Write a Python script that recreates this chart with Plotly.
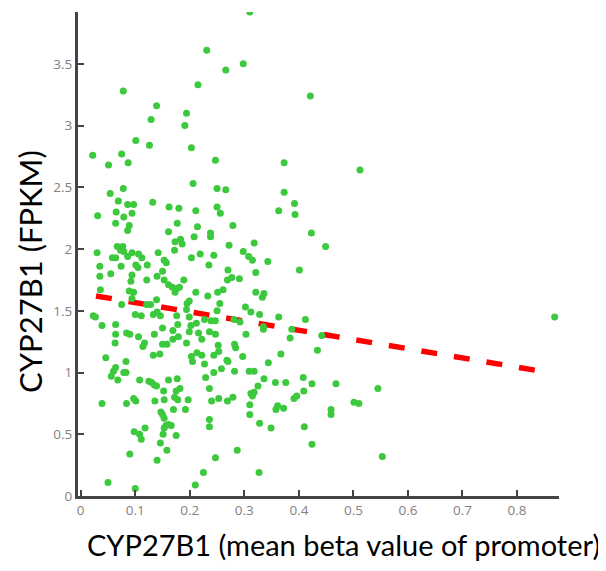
import plotly.graph_objects as go

# Scatter data: mean beta value of promoter (x) vs FPKM (y)
x_vals = [
    0.231, 0.266, 0.215, 0.078, 0.139, 0.129, 0.194, 0.191, 0.101, 0.126, 0.203, 0.022, 0.075, 0.051, 0.087, 0.247,
    0.31, 0.298, 0.421, 0.373, 0.512, 0.869,
    0.078, 0.206, 0.250, 0.266, 0.054, 0.069, 0.086, 0.097, 0.132, 0.162, 0.180, 0.031, 0.065, 0.094, 0.079, 0.211,
    0.250, 0.256, 0.064, 0.089, 0.177, 0.279, 0.086, 0.161, 0.214, 0.238, 0.208, 0.238, 0.173, 0.183, 0.186,
    0.030, 0.067, 0.077, 0.073, 0.079, 0.094, 0.106, 0.142, 0.172, 0.058, 0.064, 0.086, 0.112, 0.203, 0.219, 0.244,
    0.272, 0.035, 0.074, 0.101, 0.105, 0.122, 0.153, 0.157, 0.235, 0.035, 0.055, 0.094, 0.150, 0.140, 0.189, 0.270,
    0.092, 0.121, 0.153, 0.161, 0.168, 0.176, 0.181, 0.173, 0.269, 0.277, 0.291, 0.261, 0.251, 0.036, 0.089, 0.097,
    0.211, 0.233, 0.139, 0.094, 0.075, 0.121, 0.128, 0.195, 0.199, 0.255, 0.194, 0.250, 0.023, 0.027, 0.100, 0.111,
    0.133, 0.140, 0.146, 0.176, 0.199, 0.227, 0.239, 0.247, 0.039, 0.064, 0.178, 0.202, 0.212, 0.281, 0.292,
    0.373, 0.392, 0.363, 0.393, 0.423, 0.318, 0.449, 0.298, 0.308, 0.315, 0.343, 0.401, 0.321, 0.321, 0.336, 0.333,
    0.302, 0.312, 0.328, 0.363, 0.412, 0.335, 0.387,
    0.064, 0.084, 0.090, 0.106, 0.135, 0.150, 0.169, 0.169, 0.179, 0.199, 0.216, 0.222, 0.236, 0.247, 0.063, 0.117,
    0.114, 0.150, 0.158, 0.194, 0.252, 0.282, 0.284, 0.046, 0.133, 0.145, 0.203, 0.213, 0.222, 0.244, 0.253, 0.205,
    0.227, 0.268, 0.270, 0.083, 0.064, 0.060, 0.079, 0.083, 0.056, 0.068, 0.108, 0.125, 0.130, 0.135, 0.139, 0.161,
    0.177, 0.229, 0.244, 0.258, 0.282, 0.182, 0.152, 0.175, 0.236, 0.172, 0.178, 0.039, 0.084, 0.097, 0.101, 0.136,
    0.153, 0.197, 0.240, 0.253, 0.269, 0.279, 0.170, 0.192, 0.147, 0.150, 0.153, 0.236, 0.236, 0.156, 0.161, 0.166,
    0.153, 0.118, 0.098, 0.108, 0.111, 0.151, 0.175, 0.146, 0.158, 0.090, 0.140, 0.247, 0.287, 0.225, 0.050, 0.100,
    0.210,
    0.303, 0.335, 0.384, 0.442, 0.297, 0.367, 0.434, 0.344, 0.309, 0.318, 0.336, 0.357, 0.376, 0.408, 0.424, 0.468,
    0.545, 0.325, 0.409, 0.318, 0.312, 0.315, 0.391, 0.396, 0.310, 0.361, 0.358, 0.372, 0.501, 0.510, 0.459, 0.459,
    0.310, 0.328, 0.349, 0.410, 0.424, 0.553, 0.327,
]
y_vals = [
    3.61, 3.45, 3.33, 3.28, 3.16, 3.05, 3.10, 3.00, 2.88, 2.84, 2.82, 2.76, 2.77, 2.68, 2.70, 2.72,
    3.92, 3.50, 3.24, 2.70, 2.64, 1.45,
    2.49, 2.53, 2.49, 2.48, 2.45, 2.39, 2.36, 2.36, 2.38, 2.34, 2.33, 2.27, 2.30, 2.29, 2.26, 2.31,
    2.34, 2.29, 2.21, 2.19, 2.21, 2.19, 2.15, 2.14, 2.18, 2.13, 2.10, 2.10, 2.06, 2.08, 2.04,
    1.97, 2.02, 2.02, 1.99, 1.98, 1.97, 1.96, 1.97, 1.99, 1.93, 1.93, 1.94, 1.93, 1.93, 1.96, 1.95,
    2.03, 1.86, 1.86, 1.87, 1.85, 1.87, 1.91, 1.89, 1.87, 1.78, 1.80, 1.79, 1.82, 1.78, 1.75, 1.83,
    1.74, 1.75, 1.75, 1.71, 1.69, 1.68, 1.69, 1.65, 1.75, 1.77, 1.76, 1.67, 1.65, 1.67, 1.66, 1.65,
    1.65, 1.62, 1.59, 1.60, 1.55, 1.55, 1.55, 1.56, 1.58, 1.56, 1.51, 1.50, 1.46, 1.45, 1.47, 1.46,
    1.47, 1.49, 1.46, 1.46, 1.45, 1.43, 1.42, 1.42, 1.38, 1.39, 1.39, 1.38, 1.40, 1.43, 1.41,
    2.46, 2.37, 2.31, 2.28, 2.13, 2.05, 2.02, 1.98, 1.94, 1.91, 1.90, 1.83, 1.81, 1.65, 1.64, 1.61,
    1.53, 1.49, 1.47, 1.45, 1.43, 1.35, 1.35,
    1.31, 1.32, 1.31, 1.29, 1.31, 1.36, 1.34, 1.27, 1.29, 1.33, 1.32, 1.27, 1.33, 1.31, 1.24, 1.24,
    1.21, 1.23, 1.23, 1.24, 1.22, 1.23, 1.20, 1.12, 1.14, 1.15, 1.13, 1.16, 1.14, 1.14, 1.17, 1.09,
    1.07, 1.10, 1.09, 1.09, 1.04, 1.01, 1.00, 1.00, 0.97, 0.94, 0.94, 0.93, 0.92, 0.90, 0.89, 0.94,
    0.95, 0.96, 1.00, 1.03, 1.01, 0.87, 0.85, 0.85, 0.87, 0.80, 0.78, 0.75, 0.75, 0.79, 0.77, 0.77,
    0.78, 0.78, 0.77, 0.79, 0.77, 0.80, 0.70, 0.70, 0.68, 0.66, 0.63, 0.62, 0.56, 0.57, 0.58, 0.57,
    0.55, 0.55, 0.52, 0.50, 0.46, 0.50, 0.49, 0.43, 0.37, 0.34, 0.29, 0.31, 0.37, 0.19, 0.11, 0.06,
    0.09,
    1.31, 1.37, 1.28, 1.30, 1.13, 1.15, 1.18, 1.08, 1.01, 1.01, 0.95, 0.92, 0.92, 0.96, 0.91, 0.91,
    0.87, 0.89, 0.85, 0.84, 0.83, 0.81, 0.79, 0.81, 0.74, 0.73, 0.70, 0.71, 0.76, 0.75, 0.70, 0.66,
    0.66, 0.59, 0.55, 0.56, 0.42, 0.32, 0.19,
]

# Regression line endpoints
fit_x = [0.028, 0.845]
fit_y = [1.62, 1.01]

x_tickvals = [0, 0.1, 0.2, 0.3, 0.4, 0.5, 0.6, 0.7, 0.8]
x_ticktext = ["0", "0.1", "0.2", "0.3", "0.4", "0.5", "0.6", "0.7", "0.8"]
y_tickvals = [0, 0.5, 1, 1.5, 2, 2.5, 3, 3.5]
y_ticktext = ["0", "0.5", "1", "1.5", "2", "2.5", "3", "3.5"]

x_title = "CYP27B1 (mean beta value of promoter)"
y_title = "CYP27B1 (FPKM)"

fig = go.Figure()
fig.add_trace(go.Scatter(
    x=fit_x, y=fit_y, mode="lines",
    line=dict(color="#ff0000", width=5.5, dash="16px,17px"),
    showlegend=False, hoverinfo="skip",
))
fig.add_trace(go.Scatter(
    x=x_vals, y=y_vals, mode="markers",
    marker=dict(color="#3dc93d", size=7, line=dict(width=0)),
    showlegend=False, hoverinfo="skip",
))

axis_common = dict(
    showgrid=False, zeroline=False, showline=True, linecolor="#444444", linewidth=3,
    ticks="inside", ticklen=6, tickwidth=2, tickcolor="#444444",
    tickfont=dict(family="Open Sans", size=13.5, color="#858080"),
)
fig.update_xaxes(range=[-0.005, 0.877], tickvals=x_tickvals, ticktext=x_ticktext, **axis_common)
fig.update_yaxes(range=[0, 3.92], tickvals=y_tickvals, ticktext=y_ticktext, **axis_common)

fig.update_layout(
    width=598, height=563,
    margin=dict(l=70, r=47, t=4, b=75),
    paper_bgcolor="white", plot_bgcolor="white",
    annotations=[
        dict(text=x_title, xref="paper", yref="paper", x=0.553, y=-0.101,
             xanchor="center", yanchor="middle", showarrow=False,
             font=dict(family="Lato", size=29, color="black")),
        dict(text=y_title, xref="paper", yref="paper", x=-0.0998, y=0.465,
             xanchor="center", yanchor="middle", showarrow=False, textangle=-90,
             font=dict(family="Lato", size=31, color="black")),
    ],
)

fig.write_html("out.html")
